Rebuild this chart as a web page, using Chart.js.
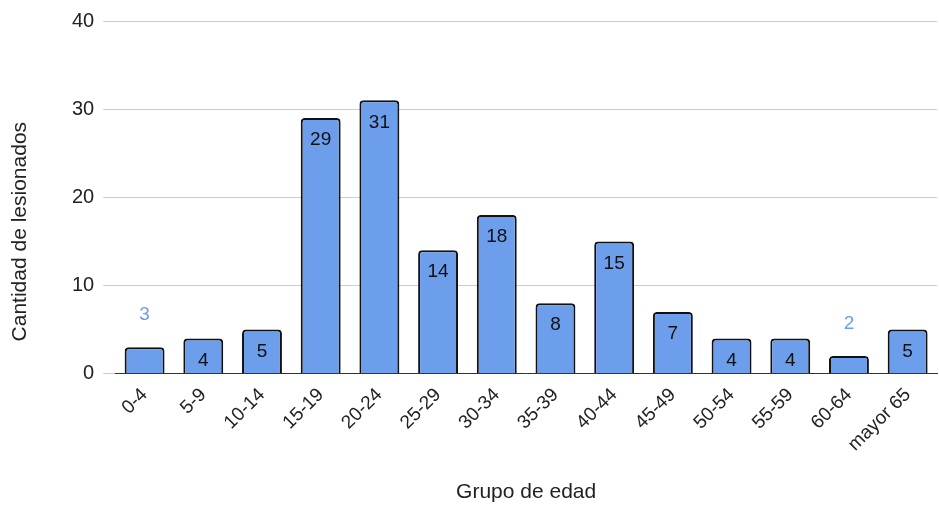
<!DOCTYPE html>
<html>
<head>
<meta charset="utf-8">
<script src="https://cdn.jsdelivr.net/npm/chart.js@4"></script>
<style>
  html, body { margin: 0; padding: 0; background: #fff; }
  #wrap { width: 939px; height: 507px; }
</style>
</head>
<body>
<div id="wrap"><canvas id="lesChart" width="939" height="507"></canvas></div>
<script>
const grupos = ["0-4", "5-9", "10-14", "15-19", "20-24", "25-29", "30-34", "35-39",
  "40-44", "45-49", "50-54", "55-59", "60-64", "mayor 65"];
const lesionados = [3, 4, 5, 29, 31, 14, 18, 8, 15, 7, 4, 4, 2, 5];
const yTicks = [0, 10, 20, 30, 40];
const yTitulo = "Cantidad de lesionados";

const azul = "#6d9eeb";
const fuente = "'Liberation Sans', Arial, sans-serif";

// numbers on bars: inside near top, above in blue when bar is too short
const valueLabels = {
  id: "valueLabels",
  afterDatasetsDraw(chart) {
    const ctx = chart.ctx;
    const meta = chart.getDatasetMeta(0);
    ctx.save();
    ctx.font = "19px " + fuente;
    ctx.textAlign = "center";
    ctx.textBaseline = "middle";
    meta.data.forEach(function (bar, i) {
      const v = lesionados[i];
      if (v < 4) {
        ctx.fillStyle = azul;
        ctx.fillText(String(v), bar.x, bar.y - 32);
      } else {
        ctx.fillStyle = "#111";
        ctx.fillText(String(v), bar.x, bar.y + 22);
      }
    });
    ctx.restore();
  }
};

// y title sits a bit lower than the axis middle in the original
const yTitle = {
  id: "yTitle",
  afterDraw(chart) {
    const ctx = chart.ctx;
    const area = chart.chartArea;
    ctx.save();
    ctx.translate(20, area.bottom - 142);
    ctx.rotate(-Math.PI / 2);
    ctx.font = "21px " + fuente;
    ctx.fillStyle = "#222";
    ctx.textAlign = "center";
    ctx.textBaseline = "middle";
    ctx.fillText(yTitulo, 0, 0);
    ctx.restore();
  }
};

new Chart("lesChart", {
  type: "bar",
  data: {
    labels: grupos,
    datasets: [
      {
        data: lesionados,
        backgroundColor: azul,
        borderColor: "#111",
        borderWidth: 2,
        borderRadius: 4,
        borderSkipped: "bottom",
        barPercentage: 0.68,
        categoryPercentage: 1,
      },
    ],
  },
  options: {
    responsive: false,
    animation: false,
    layout: { autoPadding: false, padding: { top: 17, right: 2, left: 63, bottom: 2 } },
    plugins: {
      legend: { display: false },
      tooltip: { enabled: false },
    },
    scales: {
      x: {
        grid: { display: false, drawTicks: false },
        border: { color: "#333", width: 1 },
        ticks: {
          color: "#222",
          font: { family: fuente, size: 19 },
          maxRotation: 45,
          minRotation: 45,
          padding: 10,
        },
        title: {
          display: true,
          text: "Grupo de edad",
          color: "#222",
          font: { family: fuente, size: 21 },
          padding: { top: 14, bottom: 0 },
        },
      },
      y: {
        min: 0,
        max: 40,
        afterBuildTicks(axis) {
          axis.ticks = yTicks.map((v) => ({ value: v }));
        },
        grid: { color: "#cccccc", tickLength: 12, drawTicks: true },
        border: { display: false },
        ticks: {
          color: "#222",
          font: { family: fuente, size: 20 },
          padding: 9,
        },
      },
    },
  },
  plugins: [valueLabels, yTitle],
});
</script>
</body>
</html>
